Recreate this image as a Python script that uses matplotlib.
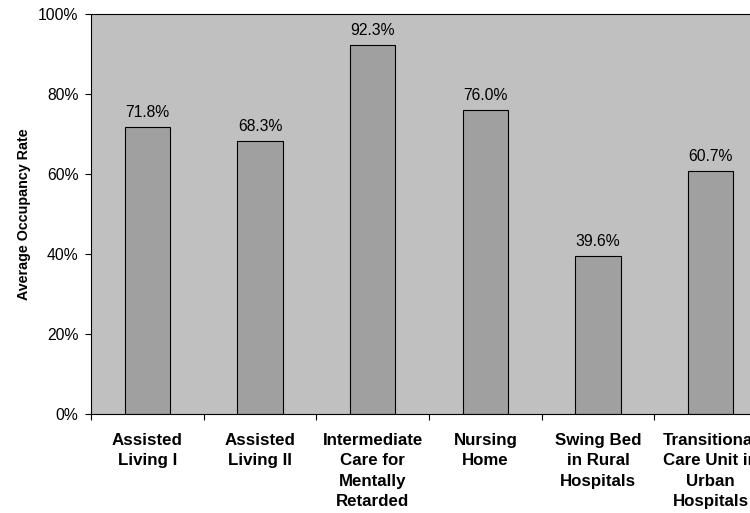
import matplotlib
matplotlib.use("Agg")
import matplotlib.pyplot as plt
import numpy as np

categories = [
    "Assisted\nLiving I",
    "Assisted\nLiving II",
    "Intermediate\nCare for\nMentally\nRetarded",
    "Nursing\nHome",
    "Swing Bed\nin Rural\nHospitals",
    "Transitional\nCare Unit in\nUrban\nHospitals",
]
occupancy = [71.8, 68.3, 92.3, 76.0, 39.6, 60.7]
y_ticks = [0, 20, 40, 60, 80, 100]

plt.rcParams["font.family"] = ["Liberation Sans", "DejaVu Sans"]

fig = plt.figure(figsize=(7.5, 5.13), dpi=100)
# plot area runs past the right edge of the figure, as in the original
ax = fig.add_axes([91 / 750, 99 / 513, 676 / 750, 400 / 513])
ax.set_facecolor("#C0C0C0")

x = np.arange(len(categories))
ax.bar(x, occupancy, width=0.4, color="#A0A0A0", edgecolor="black", linewidth=0.8)

for xi, v in zip(x, occupancy):
    ax.annotate(f"{v:.1f}%", (xi, v), xytext=(0, 5), textcoords="offset points",
                ha="center", va="bottom", fontsize=11.3)

ax.set_xlim(-0.5, len(categories) - 0.5)
ax.set_ylim(0, 100)
ax.set_yticks(y_ticks)
ax.set_yticklabels([f"{t}%" for t in y_ticks], fontsize=11.3)
ax.tick_params(axis="y", length=4, width=0.8, direction="out", pad=5)

# category ticks sit between the bars, labels under the bars
ax.set_xticks(np.arange(len(categories) + 1) - 0.5)
ax.set_xticklabels([])
ax.tick_params(axis="x", length=4, width=0.8, direction="out")
ax.set_xticks(x, minor=True)
ax.set_xticklabels(categories, minor=True, fontsize=12.2, fontweight="bold",
                   va="top", linespacing=1.42)
ax.tick_params(axis="x", which="minor", length=0, pad=14)

for side in ["left", "bottom", "top", "right"]:
    ax.spines[side].set_linewidth(0.8)

ax.set_ylabel("Average Occupancy Rate", fontsize=10.3, fontweight="bold", labelpad=5)

fig.savefig("out.png", dpi=100)
